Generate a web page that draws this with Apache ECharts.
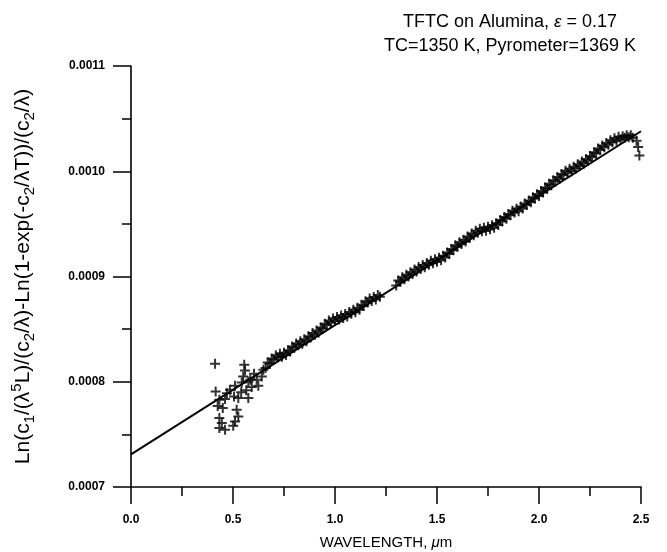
<!DOCTYPE html>
<html>
<head>
<meta charset="utf-8">
<script src="https://cdn.jsdelivr.net/npm/echarts@6/dist/echarts.min.js"></script>
<style>
html,body{margin:0;padding:0;background:#fff;}
#chart{width:667px;height:552px;}
</style>
</head>
<body>
<div id="chart"></div>
<script>
// ---- data ----
var xTicks = ['0.0','0.5','1.0','1.5','2.0','2.5'];
var yTicks = ['0.0007','0.0008','0.0009','0.0010','0.0011'];

// fitted straight line (end points)
var fitX = [0.0, 2.5];
var fitY = [0.000731, 0.001038];

// noisy short-wavelength points
var noisyX = [0.412,0.415,0.433,0.461,0.433,0.445,0.433,0.461,0.450,0.485,0.510,0.505,0.526,0.518,0.526,0.510,0.501,0.555,0.559,0.550,0.543,0.575,0.592,0.575,0.603,0.616,0.624,0.649,0.641,0.425,0.470,0.540,0.565,0.585];
var noisyY = [0.000817,0.0007908,0.000783,0.0007836,0.0007655,0.0007608,0.000756,0.0007544,0.000775,0.0007924,0.0007962,0.000786,0.0007845,0.0007734,0.000767,0.0007623,0.0007582,0.0008161,0.0008107,0.000805,0.0007993,0.0008003,0.000795,0.0007845,0.0008076,0.0008019,0.0007962,0.0008114,0.000805,0.000777,0.000789,0.000790,0.000792,0.000802];

// dense band, first segment (lower and upper rows)
var band1X = [0.66,0.68,0.70,0.72,0.74,0.76,0.78,0.80,0.82,0.84,0.86,0.88,0.90,0.92,0.94,0.96,0.98,1.00,1.02,1.04,1.06,1.08,1.10,1.12,1.14,1.16,1.18,1.20,1.22];
var band1Y = [0.0008130,0.0008174,0.0008209,0.0008233,0.0008238,0.0008253,0.0008287,0.0008322,0.0008346,0.0008361,0.0008385,0.0008420,0.0008444,0.0008469,0.0008503,0.0008538,0.0008563,0.0008577,0.0008592,0.0008606,0.0008621,0.0008645,0.0008660,0.0008684,0.0008719,0.0008753,0.0008768,0.0008782,0.0008807];
var band1bX = [0.67,0.69,0.71,0.73,0.75,0.77,0.79,0.81,0.83,0.85,0.87,0.89,0.91,0.93,0.95,0.97,0.99,1.01,1.03,1.05,1.07,1.09,1.11,1.13,1.15,1.17,1.19,1.21];
var band1bY = [0.0008182,0.0008222,0.0008251,0.0008266,0.0008276,0.0008300,0.0008335,0.0008364,0.0008384,0.0008403,0.0008433,0.0008462,0.0008487,0.0008516,0.0008551,0.0008581,0.0008600,0.0008615,0.0008629,0.0008644,0.0008663,0.0008683,0.0008702,0.0008732,0.0008766,0.0008791,0.0008805,0.0008825];

// dense band, second segment (lower and upper rows)
var band2X = [1.30,1.32,1.34,1.36,1.38,1.40,1.42,1.44,1.46,1.48,1.50,1.52,1.54,1.56,1.58,1.60,1.62,1.64,1.66,1.68,1.70,1.72,1.74,1.76,1.78,1.80,1.82,1.84,1.86,1.88,1.90,1.92,1.94,1.96,1.98,2.00,2.02,2.04,2.06,2.08,2.10,2.12,2.14,2.16,2.18,2.20,2.22,2.24,2.26,2.28,2.30,2.32,2.34,2.36,2.38,2.40,2.42,2.44,2.46,2.478,2.486,2.492];
var band2Y = [0.0008915,0.0008950,0.0008974,0.0008999,0.0009023,0.0009048,0.0009072,0.0009087,0.0009111,0.0009126,0.0009141,0.0009155,0.0009180,0.0009214,0.0009249,0.0009283,0.0009308,0.0009332,0.0009367,0.0009391,0.0009416,0.0009430,0.0009435,0.0009450,0.0009464,0.0009489,0.0009523,0.0009548,0.0009582,0.0009607,0.0009621,0.0009646,0.0009680,0.0009705,0.0009740,0.0009764,0.0009799,0.0009833,0.0009868,0.0009902,0.0009927,0.0009961,0.0009986,0.0010000,0.0010025,0.0010049,0.0010074,0.0010099,0.0010133,0.0010168,0.0010202,0.0010227,0.0010251,0.0010276,0.0010290,0.0010305,0.0010319,0.0010324,0.0010318,0.001029,0.001023,0.001015];
var band2bX = [1.31,1.33,1.35,1.37,1.39,1.41,1.43,1.45,1.47,1.49,1.51,1.53,1.55,1.57,1.59,1.61,1.63,1.65,1.67,1.69,1.71,1.73,1.75,1.77,1.79,1.81,1.83,1.85,1.87,1.89,1.91,1.93,1.95,1.97,1.99,2.01,2.03,2.05,2.07,2.09,2.11,2.13,2.15,2.17,2.19,2.21,2.23,2.25,2.27,2.29,2.31,2.33,2.35,2.37,2.39,2.41,2.43,2.45];
var band2bY = [0.0008963,0.0008992,0.0009017,0.0009041,0.0009066,0.0009090,0.0009110,0.0009129,0.0009149,0.0009164,0.0009178,0.0009198,0.0009227,0.0009262,0.0009296,0.0009326,0.0009350,0.0009380,0.0009409,0.0009434,0.0009453,0.0009463,0.0009473,0.0009487,0.0009507,0.0009536,0.0009566,0.0009595,0.0009625,0.0009644,0.0009664,0.0009693,0.0009723,0.0009753,0.0009782,0.0009812,0.0009846,0.0009881,0.0009915,0.0009945,0.0009974,0.0010004,0.0010023,0.0010043,0.0010067,0.0010092,0.0010117,0.0010146,0.0010181,0.0010215,0.0010245,0.0010269,0.0010294,0.0010313,0.0010328,0.0010332,0.0010342,0.0010341];

function zip(a,b){var r=[];for(var i=0;i<a.length;i++)r.push([a[i],b[i]]);return r;}

var FONT = '"Liberation Sans", Arial, sans-serif';
var plus = 'path://M0,5L10,5M5,0L5,10';
var markerStyle = {color:'rgba(0,0,0,0)', borderColor:'#000', borderWidth:2};
function scat(data){
  return {type:'scatter', data:data, symbol:plus, symbolSize:10, itemStyle:markerStyle, clip:false, z:4};
}

var chart = echarts.init(document.getElementById('chart'), null, {renderer:'canvas'});
chart.setOption({
  animation:false,
  backgroundColor:'#fff',
  title:{
    text:'TFTC on Alumina, {e|ε} = 0.17\nTC=1350 K, Pyrometer=1369 K',
    left:505, top:5, textAlign:'center',
    textStyle:{fontFamily:FONT, fontSize:18, fontWeight:'normal', color:'#000', lineHeight:24,
      rich:{e:{fontFamily:FONT, fontSize:17, fontStyle:'italic', color:'#000', lineHeight:24}}}
  },
  grid:{left:131, right:26, top:66, bottom:65, containLabel:false, outerBoundsMode:'none'},
  xAxis:{
    type:'value', min:0, max:2.5, interval:0.5,
    name:'WAVELENGTH, {i|μ}m', nameLocation:'middle', nameGap:48,
    nameTextStyle:{fontFamily:FONT, fontSize:15, color:'#000',
      rich:{i:{fontFamily:FONT, fontSize:15, fontStyle:'italic', color:'#000'}}},
    axisLine:{show:true, onZero:false, lineStyle:{color:'#000', width:1.6}},
    axisTick:{show:true, inside:false, length:17, lineStyle:{color:'#000', width:1.5}},
    minorTick:{show:true, splitNumber:2, length:9, lineStyle:{color:'#000', width:1.5}},
    splitLine:{show:false},
    axisLabel:{margin:27, fontFamily:FONT, fontSize:12, fontWeight:'bold', color:'#000',
      formatter:function(v){var i=Math.round(v/0.5);return xTicks[i]!==undefined?xTicks[i]:'';}}
  },
  yAxis:{
    type:'value', min:0.0007, max:0.0011, interval:0.0001,
    name:'Ln(c{s|1}/(λ{p|5}L)/(c{s|2}/λ)-Ln(1-exp(-c{s|2}/λT))/(c{s|2}/λ)',
    nameLocation:'middle', nameGap:94,
    nameTextStyle:{fontFamily:FONT, fontSize:21, color:'#000', lineHeight:28,
      rich:{
        s:{fontFamily:FONT, fontSize:15, color:'#000', verticalAlign:'bottom', lineHeight:28},
        p:{fontFamily:FONT, fontSize:15, color:'#000', verticalAlign:'top', lineHeight:28}
      }},
    axisLine:{show:true, onZero:false, lineStyle:{color:'#000', width:1.6}},
    axisTick:{show:true, inside:false, length:18, lineStyle:{color:'#000', width:1.5}},
    minorTick:{show:true, splitNumber:2, length:9, lineStyle:{color:'#000', width:1.5}},
    splitLine:{show:false},
    axisLabel:{margin:26, fontFamily:FONT, fontSize:12, fontWeight:'bold', color:'#000',
      formatter:function(v){var i=Math.round((v-0.0007)/0.0001);return yTicks[i]!==undefined?yTicks[i]:'';}}
  },
  series:[
    {type:'line', data:zip(fitX,fitY), symbol:'none', lineStyle:{color:'#000', width:2}, z:3},
    scat(zip(noisyX,noisyY)),
    scat(zip(band1X,band1Y)),
    scat(zip(band1bX,band1bY)),
    scat(zip(band2X,band2Y)),
    scat(zip(band2bX,band2bY))
  ]
});
</script>
</body>
</html>
